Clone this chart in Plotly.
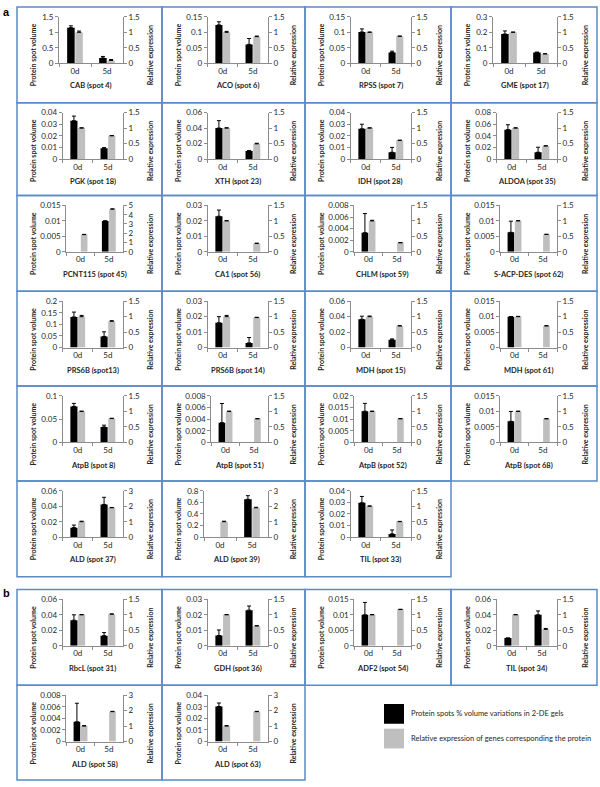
import plotly.graph_objects as go

categories = ["0d", "5d"]

titles = ["CAB (spot 4)", "ACO (spot 6)", "RPSS (spot 7)", "GME (spot 17)",
          "PGK (spot 18)", "XTH (spot 23)", "IDH (spot 28)", "ALDOA (spot 35)",
          "PCNT115 (spot 45)", "CA1 (spot 56)", "CHLM (spot 59)", "S-ACP-DES (spot 62)",
          "PRS6B (spot13)", "PRS6B (spot 14)", "MDH (spot 15)", "MDH (spot 61)",
          "AtpB (spot 8)", "AtpB (spot 51)", "AtpB (spot 52)", "AtpB (spot 68)",
          "ALD (spot 37)", "ALD (spot 39)", "TIL (spot 33)",
          "RbcL (spot 31)", "GDH (spot 36)", "ADF2 (spot 54)", "TIL (spot 34)",
          "ALD (spot 58)", "ALD (spot 63)"]

# Protein spot volume (black bars, left axis)
protein_0d = [1.15, 0.124, 0.101, 0.189, 0.033, 0.040, 0.026, 0.0506,
              None, 0.023, 0.0033, 0.0063, 0.132, 0.016, 0.0366, 0.010,
              0.0775, 0.0034, 0.0134, 0.0068, 0.0123, None, 0.0296,
              0.033, 0.0066, 0.010, 0.010, 0.0034, 0.0302]
protein_5d = [0.17, 0.061, 0.035, 0.070, 0.0093, 0.0104, 0.0058, 0.0116,
              0.010, None, None, None, 0.048, 0.003, 0.0102, None,
              0.033, None, None, None, 0.0423, 0.653, 0.0028,
              0.013, 0.023, None, 0.040, None, None]
protein_err_0d = [0.06, 0.010, 0.010, 0.020, 0.004, 0.0096, 0.004, 0.0085,
                  0, 0.004, 0.0033, 0.0036, 0.021, 0.004, 0.004, 0,
                  0.0065, 0.0033, 0.0034, 0.0032, 0.0033, 0, 0.0055,
                  0.007, 0.0036, 0.004, 0, 0.0032, 0.003]
protein_err_5d = [0.05, 0.019, 0.004, 0.002, 0.0005, 0.0005, 0.0042, 0.0087,
                  0, 0, 0, 0, 0.02, 0.0035, 0.001, 0,
                  0.004, 0, 0, 0, 0.0092, 0.062, 0.0034,
                  0.004, 0.0027, 0, 0.005, 0, 0]

# Relative expression (grey bars, right axis)
expr_0d = [1.0, 1.0, 1.0, 1.0, 1.0, 1.0, 1.0, 1.0,
           1.85, 1.0, 1.0, 1.0, 1.0, 1.0, 1.0, 1.0,
           1.0, 1.0, 1.0, 1.0, 1.0, 1.0, 1.0,
           1.0, 1.0, 1.0, 1.0, 1.0, 1.0]
expr_5d = [0.09, 0.86, 0.87, 0.30, 0.75, 0.49, 0.60, 0.42,
           4.6, 0.27, 0.29, 0.56, 0.85, 0.97, 0.70, 0.70,
           0.77, 0.76, 0.76, 0.76, 1.9, 1.9, 0.50,
           1.02, 0.64, 1.17, 0.53, 1.93, 1.93]
expr_err_0d = [0.04, 0.03, 0.01, 0.01, 0.01, 0.01, 0.01, 0.01,
               0.03, 0.01, 0.02, 0.01, 0.04, 0.04, 0.02, 0.01,
               0.01, 0.01, 0.01, 0.01, 0.03, 0.03, 0.01,
               0.01, 0.01, 0.01, 0.01, 0.03, 0.03]
expr_err_5d = [0.03, 0.02, 0.01, 0.01, 0.01, 0.02, 0.01, 0.01,
               0.03, 0.01, 0.01, 0.01, 0.02, 0.01, 0.01, 0.01,
               0.01, 0.01, 0.01, 0.01, 0.02, 0.03, 0.01,
               0.01, 0.01, 0.01, 0.03, 0.02, 0.02]

left_max = [1.5, 0.15, 0.15, 0.3, 0.04, 0.06, 0.04, 0.08,
            0.015, 0.03, 0.008, 0.015, 0.2, 0.03, 0.06, 0.015,
            0.1, 0.008, 0.02, 0.015, 0.06, 0.8, 0.04,
            0.06, 0.03, 0.015, 0.06, 0.008, 0.04]
left_step = [0.5, 0.05, 0.05, 0.1, 0.01, 0.02, 0.01, 0.02,
             0.005, 0.01, 0.002, 0.005, 0.05, 0.01, 0.02, 0.005,
             0.05, 0.002, 0.005, 0.005, 0.02, 0.2, 0.01,
             0.02, 0.01, 0.005, 0.02, 0.002, 0.01]
right_max = [1.5] * 8 + [5] + [1.5] * 11 + [3, 3, 1.5] + [1.5] * 4 + [3, 3]
right_step = [0.5] * 8 + [1] + [0.5] * 11 + [1, 1, 0.5] + [0.5] * 4 + [1, 1]

legend_labels = ["Protein spots % volume variations in 2-DE gels",
                 "Relative expression of genes corresponding the protein"]

# ---------------- layout geometry (pixels) ----------------
W, H = 600, 787
col_x = [17, 162, 305, 451, 597]
a_rows = [2, 99, 193, 290, 386, 482, 579]
b_rows = [592, 689, 785]

cells = []
for r in range(6):
    ncol = 4 if r < 5 else 3
    for c in range(ncol):
        cells.append((c, a_rows[r], a_rows[r + 1]))
for r in range(2):
    ncol = 4 if r == 0 else 2
    for c in range(ncol):
        cells.append((c, b_rows[r], b_rows[r + 1]))


def px(x):
    return x / W


def py(y):
    return 1 - y / H


def label_width(vmax, step):
    n = int(round(vmax / step))
    best = 0
    for k in range(n + 1):
        s = f"{round(k * step, 6):g}"
        w = sum(4.6 if ch.isdigit() else 2.0 for ch in s)
        best = max(best, w)
    return best


BORDER = "#5B8BC7"
AXC = "#8C8C8C"
FONT = "Lato, Open Sans, sans-serif"
TXT = "#262626"


def note(text, x, y, size=7, angle=0, xanchor="center", family=FONT, color=TXT):
    return dict(text=text, xref="paper", yref="paper", x=px(x), y=py(y),
                xanchor=xanchor, yanchor="middle", showarrow=False, textangle=angle,
                font=dict(size=size, family=family, color=color))


fig = go.Figure()
layout = dict(width=W, height=H, margin=dict(l=0, r=0, t=0, b=0),
              paper_bgcolor="white", plot_bgcolor="rgba(0,0,0,0)",
              showlegend=False, barmode="overlay",
              font=dict(family=FONT, size=8, color=TXT))
shapes = []
annotations = []

for i, (c, y0, y1) in enumerate(cells):
    x0 = col_x[c]
    x1 = col_x[c + 1]
    xn = i + 1
    yl = 2 * i + 1
    yr = 2 * i + 2
    xref = "x" if xn == 1 else f"x{xn}"
    ylref = "y" if yl == 1 else f"y{yl}"
    yrref = f"y{yr}"
    xkey = "xaxis" if xn == 1 else f"xaxis{xn}"
    ylkey = "yaxis" if yl == 1 else f"yaxis{yl}"
    yrkey = f"yaxis{yr}"

    lw = label_width(left_max[i], left_step[i])
    ax_l = x0 + 42 + 0.8 * (lw - 11.2)
    ax_r = x0 + 106
    top = y0 + 10
    bot = y0 + 57

    fig.add_trace(go.Bar(
        x=categories, y=[protein_0d[i], protein_5d[i]], xaxis=xref, yaxis=ylref,
        marker=dict(color="#000000", line=dict(width=0)), width=0.235, offset=-0.245,
        error_y=dict(type="data", symmetric=False,
                     array=[protein_err_0d[i], protein_err_5d[i]],
                     arrayminus=[0, 0], color="#000000", thickness=1, width=2)))
    fig.add_trace(go.Bar(
        x=categories, y=[expr_0d[i], expr_5d[i]], xaxis=xref, yaxis=yrref,
        marker=dict(color="#BFBFBF", line=dict(width=0)), width=0.235, offset=0.01,
        error_y=dict(type="data", symmetric=False,
                     array=[expr_err_0d[i], expr_err_5d[i]],
                     arrayminus=[0, 0], color="#000000", thickness=1, width=2)))

    tf = dict(size=8, family=FONT, color=TXT)
    layout[xkey] = dict(domain=[px(ax_l), px(ax_r)], anchor=ylref, type="category",
                        range=[-0.5, 1.5], showline=True, linecolor=AXC, linewidth=1,
                        ticks="outside", tickson="boundaries", ticklen=3, tickcolor=AXC,
                        showgrid=False, zeroline=False, tickfont=tf)
    layout[ylkey] = dict(domain=[py(bot), py(top)], anchor=xref, range=[0, left_max[i]],
                         tick0=0, dtick=left_step[i], showline=True, linecolor=AXC,
                         linewidth=1, ticks="outside", ticklen=3, tickcolor=AXC,
                         showgrid=False, zeroline=False, tickfont=tf)
    layout[yrkey] = dict(overlaying=ylref, anchor=xref, side="right", range=[0, right_max[i]],
                         tick0=0, dtick=right_step[i], showline=True, linecolor=AXC,
                         linewidth=1, ticks="outside", ticklen=3, tickcolor=AXC,
                         showgrid=False, zeroline=False, tickfont=tf)

    # panel border
    shapes.append(dict(type="rect", xref="paper", yref="paper", x0=px(x0), x1=px(x1),
                       y0=py(y1), y1=py(y0), line=dict(color=BORDER, width=1.5),
                       fillcolor="rgba(0,0,0,0)"))
    # titles
    annotations.append(note("<b>" + titles[i] + "</b>", (ax_l + ax_r) / 2, y0 + 80, size=7.5))
    annotations.append(note("<b>Protein spot volume</b>", x0 + 16, y0 + 49, angle=-90))
    annotations.append(note("<b>Relative expression</b>", x1 - 12, y0 + 49, angle=-90))

# section labels
annotations.append(note("<b>a</b>", 6, 7, size=11, family="Liberation Sans", color="black"))
annotations.append(note("<b>b</b>", 6, 596, size=11, family="Liberation Sans", color="black"))

# legend
leg_colors = ["#000000", "#BFBFBF"]
leg_y = [708, 733]
for k in range(2):
    shapes.append(dict(type="rect", xref="paper", yref="paper", x0=px(384), x1=px(404),
                       y0=py(leg_y[k] + 20), y1=py(leg_y[k]), line=dict(width=0),
                       fillcolor=leg_colors[k]))
    annotations.append(note(legend_labels[k], 409, leg_y[k] + 10, size=7.5, xanchor="left"))

layout["shapes"] = shapes
layout["annotations"] = annotations
fig.update_layout(**layout)
fig.write_html("out.html", config={"displayModeBar": False},
               post_script="document.body.style.margin='0';document.body.style.overflow='hidden';")
